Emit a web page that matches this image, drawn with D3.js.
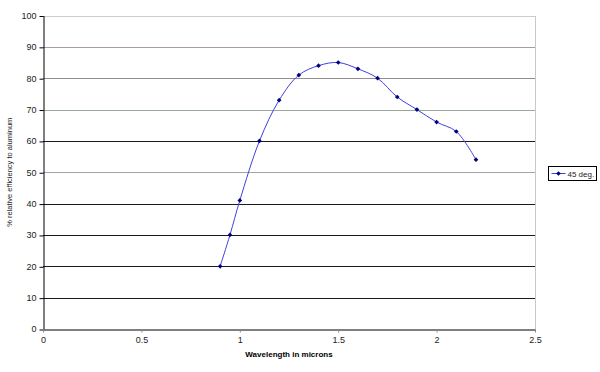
<!DOCTYPE html>
<html>
<head>
<meta charset="utf-8">
<script src="https://cdn.jsdelivr.net/npm/d3@7"></script>
<style>
  body { margin: 0; background: #fff; }
  text { font-family: Arial, "Liberation Sans", sans-serif; }
</style>
</head>
<body>
<div id="chart"></div>
<script>
// data
const wavelength = [0.9, 0.95, 1.0, 1.1, 1.2, 1.3, 1.4, 1.5, 1.6, 1.7, 1.8, 1.9, 2.0, 2.1, 2.2];
const efficiency = [20, 30, 41, 60, 73, 81, 84, 85, 83, 80, 74, 70, 66, 63, 54];
const xTicks = [0, 0.5, 1, 1.5, 2, 2.5];
const yTicks = [0, 10, 20, 30, 40, 50, 60, 70, 80, 90, 100];
const seriesName = '45 deg.';

const width = 600;
const height = 372;
const margin = { top: 15.5, right: 65, bottom: 43, left: 43 };

const x = d3.scaleLinear()
    .domain([0, 2.5])
    .range([margin.left, width - margin.right]);

const y = d3.scaleLinear()
    .domain([0, 100])
    .range([height - margin.bottom, margin.top]);

const svg = d3.select('#chart')
    .append('svg')
    .attr('width', width)
    .attr('height', height);

// gridlines - excel printed some of them in odd dithered greys
const gridColor = {
    100: '#c8cec8', 90: '#a99aa9', 80: '#948c94', 70: '#9aa89a', 50: '#a4a4a4'
};
svg.append('g')
    .selectAll('line')
    .data(yTicks.filter(d => d > 0))
    .join('line')
    .attr('x1', x(0))
    .attr('x2', x(2.5))
    .attr('y1', d => Math.round(y(d)) + 0.5)
    .attr('y2', d => Math.round(y(d)) + 0.5)
    .attr('stroke', d => gridColor[d] || '#1a1a1a')
    .attr('stroke-width', 1);

// right border
svg.append('line')
    .attr('x1', Math.round(x(2.5)) + 0.5)
    .attr('x2', Math.round(x(2.5)) + 0.5)
    .attr('y1', Math.round(y(100)) + 0.5)
    .attr('y2', Math.round(y(0)) + 0.5)
    .attr('stroke', '#909090')
    .attr('stroke-dasharray', '1,1');

// y axis
svg.append('g')
    .attr('transform', `translate(${Math.round(x(0)) + 0.5}, 0)`)
    .call(d3.axisLeft(y).tickValues(yTicks).tickSize(4).tickPadding(3).tickSizeOuter(0))
    .call(g => g.selectAll('path, line').attr('stroke', '#000'))
    .call(g => g.selectAll('.tick line').attr('transform', 'translate(0,0.5)'))
    .selectAll('text')
    .attr('font-size', '9px')
    .attr('fill', '#222');

// x axis
svg.append('g')
    .attr('transform', `translate(0, ${Math.round(y(0)) + 0.5})`)
    .call(d3.axisBottom(x).tickValues(xTicks).tickFormat(d3.format('')).tickSize(3).tickPadding(4).tickSizeOuter(0))
    .call(g => g.selectAll('path').attr('stroke', '#000'))
    .call(g => g.selectAll('.tick line').attr('stroke', '#888'))
    .selectAll('text')
    .attr('font-size', '9px')
    .attr('fill', '#222');

// axis titles
svg.append('text')
    .attr('x', (x(0) + x(2.5)) / 2)
    .attr('y', 357)
    .attr('text-anchor', 'middle')
    .attr('font-size', '8px')
    .attr('font-weight', 'bold')
    .text('Wavelength in microns');

svg.append('text')
    .attr('transform', `translate(12, ${(y(0) + y(100)) / 2}) rotate(-90)`)
    .attr('text-anchor', 'middle')
    .attr('font-size', '7.5px')
    .attr('fill', '#222')
    .text('% relative efficiency to aluminum');

// smoothed series line
const points = wavelength.map((w, i) => ({ w, e: efficiency[i] }));

const line = d3.line()
    .x(d => x(d.w))
    .y(d => y(d.e))
    .curve(d3.curveCatmullRom.alpha(0.5));

svg.append('path')
    .datum(points)
    .attr('fill', 'none')
    .attr('stroke', '#4040d8')
    .attr('stroke-width', 1)
    .attr('d', line);

const diamond = d3.symbol().type(d3.symbolDiamond2).size(14);

svg.selectAll('path.marker')
    .data(points)
    .join('path')
    .attr('class', 'marker')
    .attr('transform', d => `translate(${x(d.w)}, ${y(d.e)})`)
    .attr('d', diamond)
    .attr('fill', '#000080');

// legend
const legend = svg.append('g')
    .attr('transform', 'translate(548.5, 166.5)');

legend.append('rect')
    .attr('width', 48)
    .attr('height', 14)
    .attr('fill', '#fff')
    .attr('stroke', '#000');

legend.append('line')
    .attr('x1', 3)
    .attr('x2', 17)
    .attr('y1', 7)
    .attr('y2', 7)
    .attr('stroke', '#4040d8');

legend.append('path')
    .attr('transform', 'translate(10, 7)')
    .attr('d', diamond)
    .attr('fill', '#000080');

legend.append('text')
    .attr('x', 19)
    .attr('y', 10.5)
    .attr('font-size', '8px')
    .attr('fill', '#222')
    .text(seriesName);
</script>
</body>
</html>
